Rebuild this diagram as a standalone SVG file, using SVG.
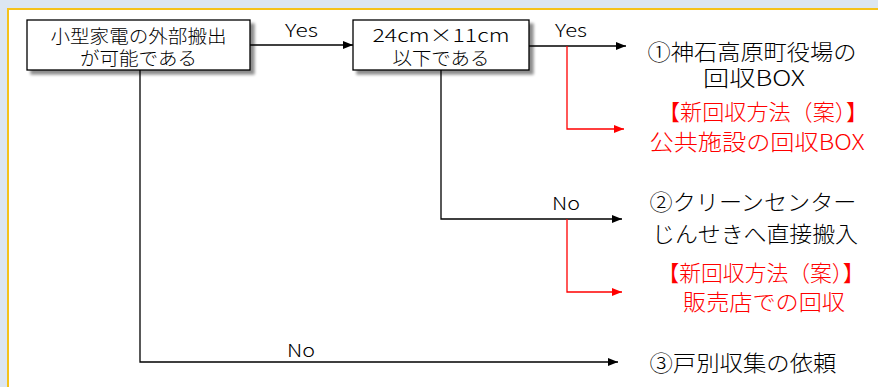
<svg xmlns="http://www.w3.org/2000/svg" width="878" height="387" viewBox="0 0 878 387">
<defs>
<style>
text{font-family:"Noto Sans CJK JP","Noto Sans",sans-serif;font-weight:300;}
.box{fill:#fff;stroke:#000;stroke-width:1.3;}
.bt{font-size:18.5px;fill:#000;text-anchor:middle;}
.lbl{font-size:18px;fill:#000;}
.res{font-size:22px;fill:#000;text-anchor:middle;}
.new{font-size:22px;fill:#ff0000;text-anchor:middle;}
.ln{fill:none;stroke:#000;stroke-width:1.3;}
.rl{fill:none;stroke:#ff0000;stroke-width:1.3;}
</style>
<filter id="sh" x="-10%" y="-20%" width="130%" height="160%">
<feGaussianBlur in="SourceAlpha" stdDeviation="1.5"/>
<feOffset dx="4" dy="4" result="b"/>
<feComponentTransfer><feFuncA type="linear" slope="0.45"/></feComponentTransfer>
<feMerge><feMergeNode/><feMergeNode in="SourceGraphic"/></feMerge>
</filter>
<marker id="ab" markerUnits="userSpaceOnUse" markerWidth="10" markerHeight="10" viewBox="0 0 10 8" refX="10" refY="4" orient="auto"><path d="M0,0 L10,4 L0,8 Z" fill="#000"/></marker>
<marker id="ar" markerUnits="userSpaceOnUse" markerWidth="10" markerHeight="10" viewBox="0 0 10 8" refX="10" refY="4" orient="auto"><path d="M0,0 L10,4 L0,8 Z" fill="#ff0000"/></marker>
</defs>
<rect x="0" y="0" width="878" height="387" fill="#dce6f2"/>
<rect x="8" y="9" width="890" height="400" fill="#fff" stroke="#f5c21b" stroke-width="2"/>

<g id="connectors">
<path class="ln" d="M250,45 H353" marker-end="url(#ab)"/>
<path class="ln" d="M529,46 H626" marker-end="url(#ab)"/>
<path class="rl" d="M567,46 V129 H624" marker-end="url(#ar)"/>
<path class="ln" d="M441,70 V219 H622" marker-end="url(#ab)"/>
<path class="rl" d="M567,219 V292 H622" marker-end="url(#ar)"/>
<path class="ln" d="M140,70 V362 H618" marker-end="url(#ab)"/>
<text class="lbl" x="285" y="37" textLength="33" lengthAdjust="spacingAndGlyphs">Yes</text>
<text class="lbl" x="555" y="37" textLength="32" lengthAdjust="spacingAndGlyphs">Yes</text>
<text class="lbl" x="552" y="210" textLength="28" lengthAdjust="spacingAndGlyphs">No</text>
<text class="lbl" x="287" y="357" textLength="28" lengthAdjust="spacingAndGlyphs">No</text>
</g>

<g id="q1">
<rect class="box" x="27" y="20" width="223" height="50" filter="url(#sh)"/>
<text class="bt"><tspan x="138.5" y="43" textLength="176" lengthAdjust="spacingAndGlyphs">小型家電の外部搬出</tspan><tspan x="138.5" y="65" textLength="117" lengthAdjust="spacingAndGlyphs">が可能である</tspan></text>
</g>

<g id="q2">
<rect class="box" x="353" y="20" width="176" height="50" filter="url(#sh)"/>
<text class="bt"><tspan x="441" y="42" textLength="137" lengthAdjust="spacingAndGlyphs">24cm×11cm</tspan><tspan x="441" y="65" textLength="97" lengthAdjust="spacingAndGlyphs">以下である</tspan></text>
</g>

<g id="r1">
<text class="res"><tspan x="752" y="60" textLength="209" lengthAdjust="spacingAndGlyphs">①神石高原町役場の</tspan><tspan x="754" y="86" textLength="102" lengthAdjust="spacingAndGlyphs">回収BOX</tspan></text>
</g>

<g id="n1">
<text class="new"><tspan x="763" y="120" textLength="210" lengthAdjust="spacingAndGlyphs">【新回収方法（案）】</tspan><tspan x="757" y="150" textLength="215" lengthAdjust="spacingAndGlyphs">公共施設の回収BOX</tspan></text>
</g>

<g id="r2">
<text class="res"><tspan x="753" y="210" textLength="207" lengthAdjust="spacingAndGlyphs">②クリーンセンター</tspan><tspan x="755" y="242" textLength="206" lengthAdjust="spacingAndGlyphs">じんせきへ直接搬入</tspan></text>
</g>

<g id="n2">
<text class="new"><tspan x="761" y="281" textLength="207" lengthAdjust="spacingAndGlyphs">【新回収方法（案）】</tspan><tspan x="764" y="310" textLength="162" lengthAdjust="spacingAndGlyphs">販売店での回収</tspan></text>
</g>

<g id="r3">
<text class="res" x="743" y="371" textLength="187" lengthAdjust="spacingAndGlyphs">③戸別収集の依頼</text>
</g>
</svg>
